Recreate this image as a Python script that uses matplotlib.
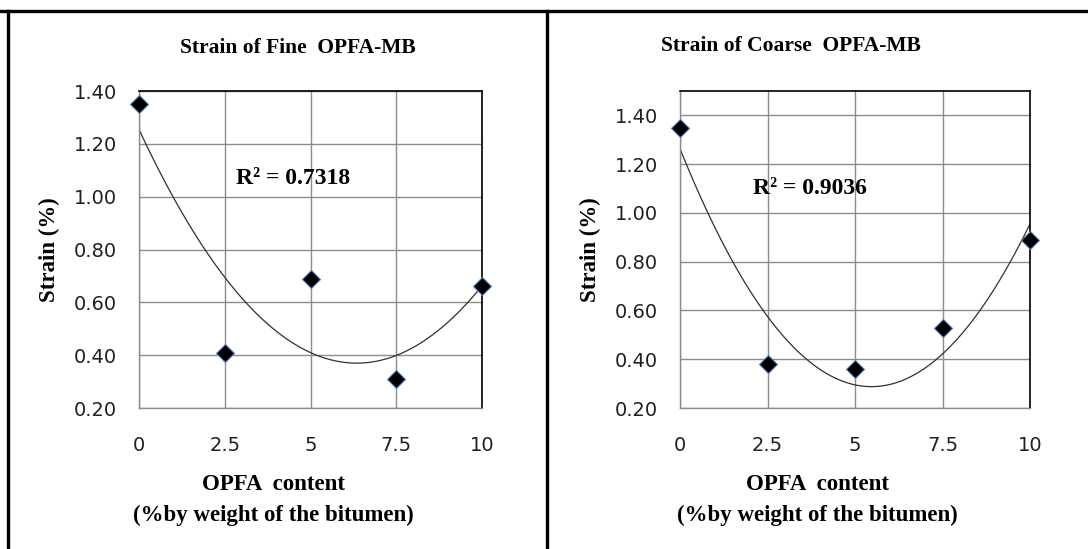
import numpy as np
import matplotlib.pyplot as plt
from matplotlib.lines import Line2D

# data
opfa = [0, 2.5, 5, 7.5, 10]
strain_fine = [1.35, 0.41, 0.69, 0.31, 0.66]
strain_coarse = [1.35, 0.38, 0.36, 0.53, 0.89]
r2_fine = "R\u00b2 = 0.7318"
r2_coarse = "R\u00b2 = 0.9036"
xtick_labels = ["0", "2.5", "5", "7.5", "10"]

W, H = 1088, 549
fig = plt.figure(figsize=(W / 100, H / 100), dpi=100)


def fx(x):
    return x / W


def fy(y):
    return 1 - y / H


serif = "Liberation Serif"


def panel(rect, x, y, ymax, title, title_xy, xlab_x, r2, r2_xy):
    ax = fig.add_axes(rect)
    coef = np.polyfit(x, y, 2)
    xs = np.linspace(0, 10, 200)
    ax.plot(xs, np.polyval(coef, xs), color="#303030", lw=0.9, zorder=2)
    ax.plot(x, y, ls="none", marker="D", ms=9.5, mfc="black",
            mec="#4f81bd", mew=0.8, zorder=3, clip_on=False)
    ax.set_xlim(0, 10)
    ax.set_ylim(0.2, ymax)
    ax.set_xticks(opfa)
    ax.set_xticklabels(xtick_labels)
    yt = np.arange(0.2, ymax + 0.001, 0.2)
    ax.set_yticks(yt)
    ax.set_yticklabels(["%.2f" % v if v < 1.41 else "" for v in yt])
    ax.tick_params(axis="both", length=0, labelsize=14, colors="#202020")
    ax.tick_params(axis="y", pad=16)
    ax.tick_params(axis="x", pad=20)
    ax.grid(True, color="#8c8c8c", lw=1)
    ax.set_axisbelow(True)
    for s in ["top", "right"]:
        ax.spines[s].set_color("black")
        ax.spines[s].set_linewidth(1.2)
    for s in ["left", "bottom"]:
        ax.spines[s].set_color("#8c8c8c")
        ax.spines[s].set_linewidth(1)
    ax.set_ylabel("Strain (%)", family=serif, weight="bold", fontsize=16.5, labelpad=10)
    ax.text(r2_xy[0], r2_xy[1], r2, family=serif, weight="bold", fontsize=17,
            va="center", ha="left")
    fig.text(fx(title_xy[0]), fy(title_xy[1]), title, family=serif, weight="bold",
             fontsize=15.5, ha="center", va="center")
    fig.text(fx(xlab_x), fy(484), "OPFA  content", family=serif, weight="bold",
             fontsize=16.5, ha="center", va="center")
    fig.text(fx(xlab_x), fy(515), "(%by weight of the bitumen)", family=serif,
             weight="bold", fontsize=16.5, ha="center", va="center")
    return ax


panel([fx(139), fy(408), fx(482) - fx(139), fy(91) - fy(408)],
      opfa, strain_fine, 1.4, "Strain of Fine  OPFA-MB", (298, 48), 273,
      r2_fine, (2.83, 1.07))
panel([fx(680), fy(408), fx(1030) - fx(680), fy(91) - fy(408)],
      opfa, strain_coarse, 1.5, "Strain of Coarse  OPFA-MB", (791, 46), 817,
      r2_coarse, (2.09, 1.10))

# outer frame lines
for xs_, ys_ in [([0, W], [11, 11]), ([8, 8], [11, H]), ([547, 547], [11, H])]:
    fig.add_artist(Line2D([fx(v) for v in xs_], [fy(v) for v in ys_],
                          transform=fig.transFigure, color="black", lw=2.4))

fig.savefig("out.png", dpi=100)
